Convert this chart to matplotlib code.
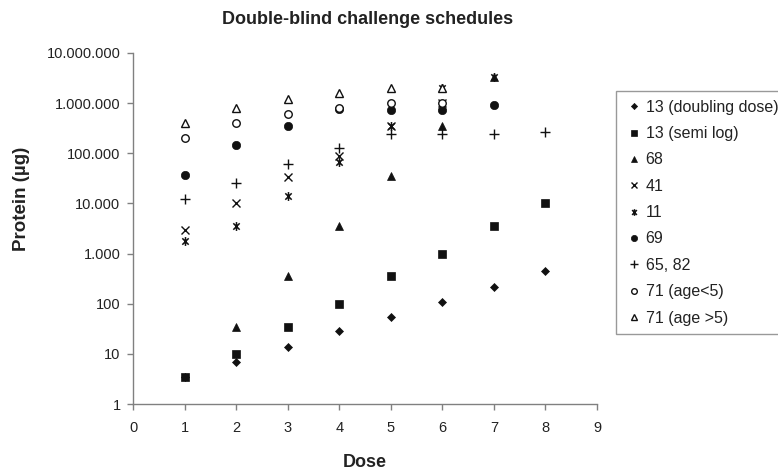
import matplotlib
matplotlib.use("Agg")
import matplotlib.pyplot as plt
from matplotlib.path import Path
from matplotlib.ticker import FixedLocator, FuncFormatter, NullLocator

plt.rcParams['font.family'] = ['Liberation Sans', 'DejaVu Sans']

# ---- data ----
doubling_dose = [1, 2, 3, 4, 5, 6, 7, 8]
doubling_val = [3.5, 7, 14, 28, 55, 110, 220, 440]

semilog_dose = [1, 2, 3, 4, 5, 6, 7, 8]
semilog_val = [3.5, 10, 35, 100, 350, 1000, 3500, 10000]

s68_dose = [2, 3, 4, 5, 6, 7]
s68_val = [35, 350, 3500, 35000, 350000, 3300000]

s41_dose = [1, 2, 3, 4, 5, 6]
s41_val = [3000, 10000, 33000, 90000, 350000, 1000000]

s11_dose = [1, 2, 3, 4, 5, 6, 7]
s11_val = [1800, 3500, 14000, 68000, 350000, 2000000, 3300000]

s69_dose = [1, 2, 3, 4, 5, 6, 7]
s69_val = [37000, 145000, 350000, 750000, 720000, 720000, 900000]

s6582_dose = [1, 2, 3, 4, 5, 6, 7, 8]
s6582_val = [12500, 25000, 60000, 125000, 240000, 240000, 240000, 270000]

s71a_dose = [1, 2, 3, 4, 5, 6]
s71a_val = [200000, 400000, 600000, 800000, 1000000, 1000000]

s71b_dose = [1, 2, 3, 4, 5, 6]
s71b_val = [400000, 800000, 1200000, 1600000, 2000000, 2000000]

labels = ["13 (doubling dose)", "13 (semi log)", "68", "41", "11", "69",
          "65, 82", "71 (age<5)", "71 (age >5)"]
y_ticks = [1, 10, 100, 1000, 10000, 100000, 1000000, 10000000]
x_ticks = [0, 1, 2, 3, 4, 5, 6, 7, 8, 9]

# asterisk marker (x plus vertical bar)
ast = Path([(0, -1), (0, 1), (-0.72, -0.72), (0.72, 0.72), (-0.72, 0.72), (0.72, -0.72)],
           [Path.MOVETO, Path.LINETO, Path.MOVETO, Path.LINETO, Path.MOVETO, Path.LINETO])

fig = plt.figure(figsize=(7.78, 4.72), dpi=100)
ax = fig.add_axes([133/778, 1-404/472, (597-133)/778, (404-53)/472])

K = '#111111'
series = [
    (doubling_dose, doubling_val, dict(marker='D', ms=4.2, mfc=K, mec=K, mew=0.5)),
    (semilog_dose, semilog_val, dict(marker='s', ms=5.6, mfc=K, mec=K, mew=0.5)),
    (s68_dose, s68_val, dict(marker='^', ms=6.2, mfc=K, mec=K, mew=0.5)),
    (s41_dose, s41_val, dict(marker='x', ms=5.8, mec=K, mew=1.0)),
    (s11_dose, s11_val, dict(marker=ast, ms=6.4, mec=K, mew=1.1)),
    (s69_dose, s69_val, dict(marker='o', ms=6.0, mfc=K, mec=K, mew=0.5)),
    (s6582_dose, s6582_val, dict(marker='+', ms=7.5, mec=K, mew=1.0)),
    (s71a_dose, s71a_val, dict(marker='o', ms=5.4, mfc='white', mec=K, mew=1.0)),
    (s71b_dose, s71b_val, dict(marker='^', ms=6.4, mfc='white', mec=K, mew=1.0)),
]
handles = []
for (xd, yd, st), lab in zip(series, labels):
    h, = ax.plot(xd, yd, linestyle='none', label=lab, **st)
    handles.append(h)

ax.set_yscale('log')
ax.set_xlim(0, 9)
ax.set_ylim(1, 10000000)
ax.xaxis.set_major_locator(FixedLocator(x_ticks))
ax.yaxis.set_major_locator(FixedLocator(y_ticks))
ax.yaxis.set_minor_locator(NullLocator())
ax.yaxis.set_major_formatter(FuncFormatter(lambda v, p: f"{int(round(v)):,}".replace(',', '.')))

gray = '#808080'
for s in ['top', 'right']:
    ax.spines[s].set_visible(False)
for s in ['left', 'bottom']:
    ax.spines[s].set_color(gray)
    ax.spines[s].set_linewidth(1.0)
ax.tick_params(axis='both', direction='out', length=4, width=1.0, color=gray,
               labelsize=10.5, labelcolor='#222222', pad=5)
ax.tick_params(axis='x', pad=8)

ax.set_xlabel('Dose', fontsize=13, fontweight='bold', color='#222222', labelpad=14)
fig.text(22/778, 1-199/472, 'Protein (µg)', rotation=90, fontsize=13.5, fontweight='bold',
         color='#222222', ha='center', va='center')
fig.text(368/778, 1-19/472, 'Double-blind challenge schedules', fontsize=13,
         fontweight='bold', color='#222222', ha='center', va='center')

leg = fig.legend(handles=handles, loc='upper left', bbox_to_anchor=(616/778, 1-91/472),
                 bbox_transform=fig.transFigure, fontsize=11.5, frameon=True, fancybox=False,
                 edgecolor=gray, borderpad=0.55, handlelength=1.2, handletextpad=0.1,
                 labelspacing=0.71, markerscale=0.75, borderaxespad=0)
leg.get_frame().set_linewidth(1.0)
for t in leg.get_texts():
    t.set_color('#222222')

fig.savefig('out.png', dpi=100)
